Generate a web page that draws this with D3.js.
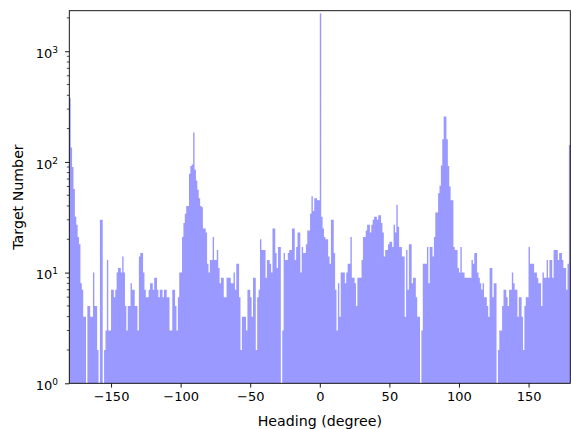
<!DOCTYPE html>
<html>
  <head>
    <meta charset="UTF-8">
    <title>Heading histogram</title>
    <style>
    body { margin: 0; background: #fff; }
    svg { display: block; }
    text { font-family: 'DejaVu Sans', sans-serif; fill: #000; }
    </style>
  </head>
  <body>
  <svg id="chart" width="571" height="429"></svg>
  <script src="https://d3js.org/d3.v7.min.js"></script>
  <script>
  // one bin per degree, starting at -180
  var firstBin = -180;
  var counts = [
    380,135,90,57,32,27,21,18,8,7,
    4,4,0,5,5,4,4,10,5,5,
    2,0,30,30,0,2,3,13,3,3,
    7,7,6,7,10,11,11,10,14,10,
    5,3,5,5,8,7,7,5,5,3,
    14,15,15,10,7,6,6,7,8,8,
    7,9,9,7,6,7,7,6,7,7,
    6,6,3,3,7,7,5,3,6,10,
    10,21,28,34,40,40,78,92,95,184,
    85,68,56,47,40,39,25,25,23,12,
    10,13,13,21,13,13,16,11,8,9,
    9,6,6,9,9,9,8,8,10,7,
    12,12,6,2,4,4,4,3,7,7,
    6,4,9,9,2,6,7,20,16,16,
    16,9,13,13,12,10,25,25,15,11,
    17,17,0,3,15,13,13,15,16,16,
    25,25,13,17,23,23,10,17,15,15,
    18,24,24,34,49,36,47,47,45,45,
    2200,32,25,21,20,20,14,12,30,30,
    15,7,3,8,4,10,10,10,8,10,
    12,12,21,9,9,8,5,9,9,9,
    13,21,21,24,27,27,23,27,30,32,
    32,30,33,33,28,23,14,16,16,18,
    19,19,17,27,23,41,26,17,17,14,
    14,4,16,7,18,18,8,9,9,6,
    4,4,0,3,12,12,12,17,8,17,
    17,14,21,35,35,52,61,93,160,257,
    257,160,92,60,45,45,17,16,16,11,
    10,17,10,10,9,9,9,9,9,13,
    12,15,15,10,9,8,7,8,6,6,
    5,4,11,11,6,8,8,0,2,3,
    3,5,7,7,6,5,7,7,10,8,
    7,7,4,6,6,4,2,5,6,6,
    17,12,12,12,10,10,9,8,8,5,
    10,9,9,13,9,13,13,9,16,16,
    16,13,15,15,13,11,11,7,12,142
  ];
  var xTicks = [-150, -100, -50, 0, 50, 100, 150];
  var yTicks = [1, 10, 100, 1000];
  var xDomain = [-180, 180];
  var yDomain = [1, 2323];

  // plot box (note: "top" is taken by window.top, so use other names)
  var plotLeft = 69.3, plotRight = 570.3, plotTop = 10.7, plotBottom = 383.3;
  var svg = d3.select('#chart');

  var x = d3.scaleLinear().domain(xDomain).range([plotLeft, plotRight]);
  var y = d3.scaleLog().domain(yDomain).range([plotBottom, plotTop]);

  var bins = counts.map(function (c, i) {
    return { start: firstBin + i, count: c };
  });
  // closing point so the last bin gets its width
  bins.push({ start: firstBin + counts.length, count: counts[counts.length - 1] });

  // bars drawn as one stepped area so adjacent bins leave no seams
  var area = d3.area()
    .curve(d3.curveStepAfter)
    .x(function (d) { return x(d.start); })
    .y0(plotBottom)
    .y1(function (d) { return d.count > 0 ? y(d.count) : plotBottom; });

  svg.append('path')
    .datum(bins)
    .attr('d', area)
    .attr('fill', '#9999ff');

  // x axis
  var xAxis = svg.append('g')
    .attr('transform', 'translate(0,' + plotBottom + ')')
    .call(d3.axisBottom(x).tickValues(xTicks).tickSize(4.3).tickPadding(4));
  xAxis.select('.domain').remove();
  xAxis.selectAll('line').attr('stroke', '#000').attr('stroke-width', 0.9);
  xAxis.selectAll('text').attr('font-size', '13px').attr('font-family', 'DejaVu Sans');

  // y axis, major + minor ticks
  var minor = y.ticks().filter(function (t) { return yTicks.indexOf(t) < 0; });
  var yAxis = svg.append('g').attr('transform', 'translate(' + plotLeft + ',0)');
  yAxis.call(d3.axisLeft(y).tickValues(yTicks).tickSize(4.3).tickFormat(''));
  yAxis.select('.domain').remove();
  yAxis.selectAll('line').attr('stroke', '#000').attr('stroke-width', 0.9);
  yAxis.selectAll('.minor')
    .data(minor)
    .enter()
    .append('line')
    .attr('class', 'minor')
    .attr('x1', 0).attr('x2', -2.5)
    .attr('y1', function (d) { return y(d); })
    .attr('y2', function (d) { return y(d); })
    .attr('stroke', '#000').attr('stroke-width', 0.7);

  var yLabels = svg.append('g').selectAll('text')
    .data(yTicks)
    .enter()
    .append('text')
    .attr('x', 58)
    .attr('y', function (d) { return y(d) + 6.8; })
    .attr('text-anchor', 'end')
    .attr('font-size', '13px');
  yLabels.append('tspan').text('10');
  yLabels.append('tspan')
    .attr('dy', -5.2)
    .attr('font-size', '9px')
    .text(function (d) { return Math.round(Math.log10(d)); });

  // frame
  svg.append('rect')
    .attr('x', plotLeft).attr('y', plotTop)
    .attr('width', plotRight - plotLeft).attr('height', plotBottom - plotTop)
    .attr('fill', 'none').attr('stroke', '#000').attr('stroke-width', 0.9);

  // axis titles
  svg.append('text')
    .attr('x', (plotLeft + plotRight) / 2).attr('y', 425.5)
    .attr('text-anchor', 'middle').attr('font-size', '14.2px')
    .text('Heading (degree)');
  svg.append('text')
    .attr('transform', 'translate(22.5,' + (plotTop + plotBottom) / 2 + ') rotate(-90)')
    .attr('text-anchor', 'middle').attr('font-size', '14.2px')
    .text('Target Number');
  </script>
  </body>
</html>
